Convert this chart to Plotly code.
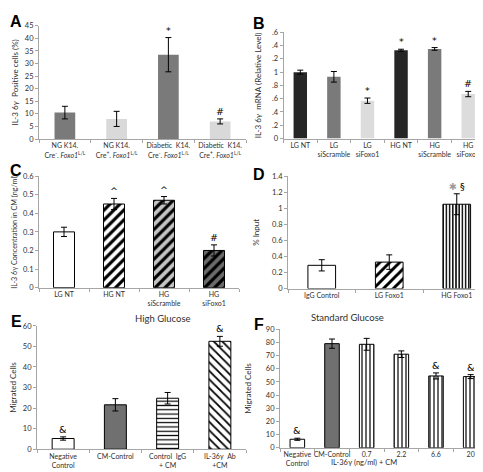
import plotly.graph_objects as go

W, H = 483, 472
FONT = "Lato, Open Sans, sans-serif"

# ---------------- Data ----------------
a_cats = ["NG K14.<br>Cre<sup>-</sup>. <i>Foxo1</i><sup>L/L</sup>",
          "NG K14.<br>Cre<sup>+</sup>. <i>Foxo1</i><sup>L/L</sup>",
          "Diabetic  K14.<br>Cre<sup>-</sup>. <i>Foxo1</i><sup>L/L</sup>",
          "Diabetic  K14.<br>Cre<sup>+</sup>. <i>Foxo1</i><sup>L/L</sup>"]
a_vals = [10.5, 8.0, 33.5, 7.0]
a_err = [2.5, 3.0, 6.8, 1.0]
a_marks = ["", "", "*", "#"]

b_cats = ["LG NT", "LG<br>siScramble", "LG<br>siFoxo1",
          "HG NT", "HG<br>siScramble", "HG<br>siFoxo1"]
b_vals = [1.00, 0.93, 0.57, 1.33, 1.35, 0.67]
b_err = [0.03, 0.08, 0.04, 0.015, 0.02, 0.04]
b_marks = ["", "", "*", "*", "*", "#"]
b_ticks = [0, 0.2, 0.4, 0.6, 0.8, 1.0, 1.2, 1.4, 1.6]
b_ticktext = ["0", ".2", ".4", ".6", ".8", "1", ".2", ".4", ".6"]

c_cats = ["LG NT", "HG NT", "HG<br>siScramble", "HG<br>siFoxo1"]
c_vals = [0.30, 0.45, 0.47, 0.20]
c_err = [0.025, 0.03, 0.02, 0.03]
c_marks = ["", "^", "^", "#"]

d_cats = ["IgG Control", "LG Foxo1", "HG Foxo1"]
d_vals = [0.29, 0.33, 1.05]
d_err = [0.07, 0.09, 0.13]
d_marks = ["", "", "<span style='color:#9a9a9a'>✱</span> §"]

e_cats = ["Negative<br>Control", "CM-Control", "Control  IgG<br>+ CM", "IL-36γ  Ab<br>+CM"]
e_vals = [5.2, 21.6, 24.8, 52.5]
e_err = [0.8, 3.0, 2.8, 2.4]
e_marks = ["&", "", "", "&"]

f_cats = ["Negative<br>Control", "CM-Control", "0.7", "2.2", "6.6", "20"]
f_vals = [6.5, 79.0, 78.5, 71.0, 54.5, 54.0]
f_err = [0.8, 3.5, 4.5, 2.5, 2.3, 1.5]
f_marks = ["&", "", "", "", "&", "&"]
f_xtitle = "IL-36γ (ng/ml) + CM"

# ---------------- Helpers ----------------
def xd(l, r):
    return [l / W, r / W]

def yd(t, b):
    return [1 - b / H, 1 - t / H]

fig = go.Figure()

AX = "#a6a6a6"

def arr(v, n):
    return v if isinstance(v, list) else [v] * n

def add_panel(i, cats, vals, errs, marks, colors, shapes, psize, psol, lcol, lw,
              xdom, ydom, yrange, dtick, ytitle, bw=0.4, ticktext=None, tickvals=None,
              standoff=4, ytsize=8, markfont=9.5):
    n = len(cats)
    xa = "x" if i == 1 else f"x{i}"
    ya = "y" if i == 1 else f"y{i}"
    # solid fill layer
    fig.add_trace(go.Bar(
        x=cats, y=vals, width=bw, xaxis=xa, yaxis=ya,
        marker=dict(color=colors, line=dict(width=0)),
        showlegend=False, hoverinfo="skip"))
    # pattern + outline + error layer
    fig.add_trace(go.Bar(
        x=cats, y=vals, width=bw, xaxis=xa, yaxis=ya,
        marker=dict(color="rgba(0,0,0,0)", line=dict(color=lcol, width=lw),
                    pattern=dict(shape=shapes, fgcolor=arr("black", n), fgopacity=1,
                                 size=arr(psize, n), solidity=arr(psol, n),
                                 fillmode="overlay")),
        error_y=dict(type="data", array=errs, color="black", thickness=1, width=3),
        showlegend=False, hoverinfo="skip"))
    suffix = "" if i == 1 else str(i)
    ax = dict(domain=xd(*xdom), anchor=ya, type="category", range=[-0.5, n - 0.5],
              autorange=False, showline=True, linecolor=AX,
              linewidth=1, ticks="outside", tickson="boundaries", ticklen=3, tickcolor=AX,
              tickfont=dict(size=7, color="#303030", family=FONT), showgrid=False,
              fixedrange=True, tickangle=0)
    ay = dict(domain=yd(*ydom), anchor=xa, range=yrange, autorange=False, dtick=dtick,
              showline=True, linecolor=AX, linewidth=1, ticks="outside", ticklen=3,
              tickcolor=AX, tickfont=dict(size=7.5, color="#303030", family=FONT),
              showgrid=False, zeroline=False, fixedrange=True,
              title=dict(text=ytitle, font=dict(size=ytsize, color="#303030", family=FONT),
                         standoff=standoff))
    if ticktext is not None:
        ay["tickmode"] = "array"
        ay["tickvals"] = tickvals
        ay["ticktext"] = ticktext
    fig.update_layout(**{f"xaxis{suffix}": ax, f"yaxis{suffix}": ay})
    for k, (v, e, m) in enumerate(zip(vals, errs, marks)):
        if m:
            fig.add_annotation(x=k, y=v + e, xref=xa, yref=ya, text=m, showarrow=False,
                               yanchor="bottom", yshift=0,
                               font=dict(size=markfont, color="black", family="DejaVu Sans"))

# A
add_panel(1, a_cats, a_vals, a_err, a_marks,
          ["#7a7a7a", "#d9d9d9", "#7a7a7a", "#d9d9d9"], [""] * 4, 8, 0.3,
          "rgba(0,0,0,0)", 0,
          (31, 238), (14, 129.5), [0, 45], 5, "IL-3 6γ  Positive cells (%)")
# B
add_panel(2, b_cats, b_vals, b_err, b_marks,
          ["#262626", "#7a7a7a", "#dcdcdc"] * 2, [""] * 6, 8, 0.3, "rgba(0,0,0,0)", 0,
          (275.5, 477), (20.7, 129), [0, 1.6], 0.2, "IL-3 6γ  mRNA (Relative Level)",
          ticktext=b_ticktext, tickvals=b_ticks, standoff=9)
# C
add_panel(3, c_cats, c_vals, c_err, c_marks,
          ["white", "white", "#c4c4c4", "#6a6a6a"], ["", "/", "/", "/"], 7, 0.45,
          "black", 1,
          (31, 231), (167.3, 281), [0, 0.6], 0.1, "IL-3 6γ Concentration in CM (ng/ml)",
          bw=0.42, ytsize=7.2)
# D
add_panel(4, d_cats, d_vals, d_err, d_marks,
          ["white", "white", "white"], ["", "/", "|"], [7, 7, 3.2], [0.4, 0.42, 0.45],
          "black", 1,
          (280, 482.5), (167.3, 282), [0, 1.4], 0.2, "% Input", bw=0.41, standoff=11)
# E
add_panel(5, e_cats, e_vals, e_err, e_marks,
          ["white", "#707070", "white", "white"], ["", "", "-", "\\"],
          [4, 4, 4.3, 6], [0.3, 0.3, 0.28, 0.3], "black", 1,
          (29, 238), (320, 445.7), [0, 60], 10, "Migrated Cells", bw=0.42)
# F
add_panel(6, f_cats, f_vals, f_err, f_marks,
          ["white", "#707070", "white", "white", "white", "white"],
          ["", "", "|", "|", "|", "|"], 4, 0.3, "black", 1,
          (272, 480), (323.3, 444.3), [0, 90], 10, "Migrated Cells", bw=0.42, standoff=12)

fig.add_annotation(x=391 / W, y=1 - 466 / H, xref="paper", yref="paper", text=f_xtitle,
                   showarrow=False, font=dict(size=7.5, color="#303030", family=FONT))

# Panel letters
for letter, x, y in [("A", 8, 10), ("B", 251, 12), ("C", 8, 162), ("D", 251, 166),
                     ("E", 8, 316), ("F", 251, 319)]:
    fig.add_annotation(x=x / W, y=1 - y / H, xref="paper", yref="paper", text=f"<b>{letter}</b>",
                       showarrow=False, xanchor="center", yanchor="middle",
                       font=dict(size=16, color="black", family="Arial"))

# Panel titles
fig.add_annotation(x=125 / W, y=1 - 320 / H, xref="paper", yref="paper", text="High Glucose",
                   showarrow=False, font=dict(size=9.5, color="#303030", family=FONT))
fig.add_annotation(x=378 / W, y=1 - 319 / H, xref="paper", yref="paper", text="Standard Glucose",
                   showarrow=False, font=dict(size=9.5, color="#303030", family=FONT))

fig.update_layout(width=W, height=H, margin=dict(l=0, r=0, t=0, b=0),
                  paper_bgcolor="white", plot_bgcolor="white", barmode="overlay",
                  font=dict(family=FONT))

fig.write_html("out.html")
